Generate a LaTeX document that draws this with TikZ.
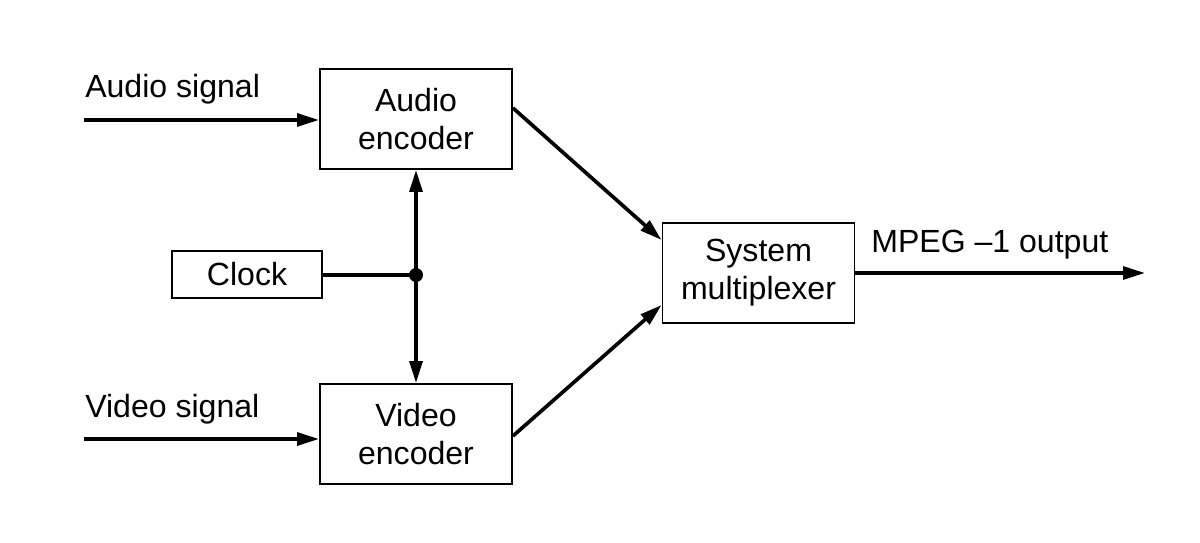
\documentclass[tikz,border=0pt]{standalone}
\usepackage{fontspec}
\setmainfont{Liberation Sans}
\usetikzlibrary{arrows.meta}
\tikzset{>={Triangle[length=5.5mm,width=3.2mm]},
         block/.style = {draw, line width=1.3pt, minimum width=4.8cm, minimum height=2.5cm, align=center, inner sep=0pt},
         sig/.style = {line width=2.6pt},
         lbl/.style = {inner sep=0pt, anchor=base west}}

\begin{document}
\begin{tikzpicture}[x=0.025cm, y=-0.025cm, font=\fontsize{22.8}{27}\selectfont]
\useasboundingbox (0,0) rectangle (1200,543);
\node [block] (aenc) at (416,119) {Audio\\encoder};
\node [block] (venc) at (416,434) {Video\\encoder};
\node [block, minimum width=3.75cm, minimum height=1.175cm] (clock) at (247,274.5) {Clock};
\node [block] (mux) at (758.5,273) {System\\multiplexer};
\node [lbl] (alab) at (85,98) {Audio signal};
\node [lbl] (vlab) at (85,417) {Video signal};
\node [lbl] (olab) at (871,253) {MPEG --1 output};
\coordinate (ain) at (84,120);
\coordinate (vin) at (84,439);
\coordinate (jn) at (416,275);
\coordinate (out) at (1145,273);
\draw [sig,->] (ain) -- (ain -| aenc.west);
\draw [sig,->] (vin) -- (vin -| venc.west);
\draw [sig] (clock.east |- jn) -- (jn);
\draw [sig,->] (jn) -- (aenc.south);
\draw [sig,->] (jn) -- (venc.north);
\fill (jn) circle (1.75mm);
\draw [sig,->] ([yshift=2.75mm]aenc.east) -- ([yshift=8.25mm]mux.west);
\draw [sig,->] ([yshift=-0.5mm]venc.east) -- ([yshift=-8mm]mux.west);
\draw [sig,->] (mux.east) -- (out);
\end{tikzpicture}
\end{document}
